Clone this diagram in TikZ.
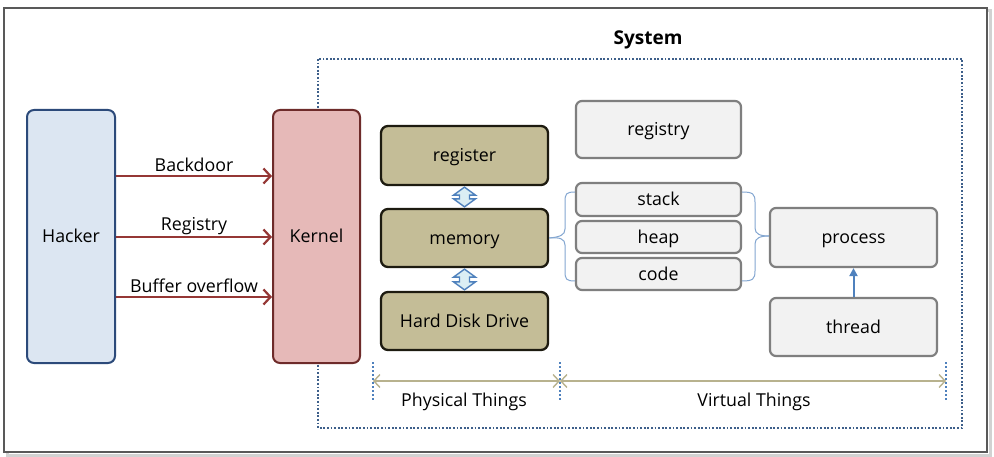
\documentclass[tikz,border=0pt]{standalone}
\usepackage{fontspec}
\setmainfont{Open Sans}
\usetikzlibrary{arrows.meta,calc}
\definecolor{hackfill}{HTML}{DCE6F2}
\definecolor{hackdraw}{HTML}{2C4A7A}
\definecolor{kernfill}{HTML}{E6B9B8}
\definecolor{kerndraw}{HTML}{6E2B2A}
\definecolor{arrred}{HTML}{953735}
\definecolor{tanfill}{HTML}{C4BD97}
\definecolor{tandraw}{HTML}{1D1B10}
\definecolor{grayfill}{HTML}{F2F2F2}
\definecolor{graydraw}{HTML}{7F7F7F}
\definecolor{blueline}{HTML}{4F81BD}
\definecolor{dotblue}{HTML}{3D5F8A}
\definecolor{dimtan}{HTML}{B8B28E}
\definecolor{dblfill}{HTML}{DBEEF4}
\tikzset{
  x=1pt,y=-1pt,
  txt/.style={font=\fontsize{17.8}{21}\selectfont},
  boxtxt/.style={txt, text height=12.7pt, text depth=0pt},
  bigbox/.style={rounded corners=7pt, line width=2pt, inner sep=0pt, boxtxt},
  hackbox/.style={bigbox, fill=hackfill, draw=hackdraw},
  kernbox/.style={bigbox, fill=kernfill, draw=kerndraw},
  tanbox/.style={rounded corners=7pt, line width=2.3pt, fill=tanfill, draw=tandraw, inner sep=0pt, boxtxt},
  graybox/.style={rounded corners=6pt, line width=2.2pt, fill=grayfill, draw=graydraw, inner sep=0pt, boxtxt},
  attack/.style={draw=arrred, line width=2.2pt, -{Straight Barb[length=7pt,width=15pt,line width=2.2pt]}},
  lbl/.style={txt, inner sep=1pt},
  bracec/.style={draw=blueline!70, line width=1pt},
  dimline/.style={draw=dimtan, line width=1.4pt, {Straight Barb[length=6pt,width=13pt]}-{Straight Barb[length=6pt,width=13pt]}},
  tick/.style={draw=blueline, line width=2pt, dash pattern=on 2pt off 2pt},
  dblarrow/.style={fill=dblfill, draw=blueline, line width=1.4pt, line join=miter},
}
\begin{document}
\begin{tikzpicture}
\useasboundingbox (0,0) rectangle (994,457);
\fill[white] (0,0) rectangle (994,457);
% outer frame with shadow
\draw[gray!35, line width=3pt] (7,11) rectangle (990,455);
\draw[gray!70!black, line width=1.6pt, fill=white] (4,8) rectangle (987,452);

% System frame
\node[font=\fontsize{19}{22}\selectfont\bfseries] (systitle) at (648,40) {System};
\draw[dotblue, line width=1.8pt, dash pattern=on 1.8pt off 1.8pt] (318,59) rectangle (962,428);

% Hacker and Kernel
\node[hackbox, minimum width=88pt, minimum height=253pt] (hacker) at (71,236.5) {Hacker};
\node[kernbox, minimum width=87pt, minimum height=253pt] (kernel) at (316.5,236.5) {Kernel};

\coordinate (h1) at (hacker.east |- 0,176);
\coordinate (h2) at (hacker.east |- 0,237);
\coordinate (h3) at (hacker.east |- 0,297);
\draw[attack] (h1) -- (kernel.west |- h1) node[lbl, midway, above=2pt] {Backdoor};
\draw[attack] (h2) -- (kernel.west |- h2) node[lbl, midway, above=0.5pt] {Registry};
\draw[attack] (h3) -- (kernel.west |- h3) node[lbl, midway, above=2pt] {Buffer overflow};

% physical things
\node[tanbox, minimum width=167pt, minimum height=59pt] (reg) at (464.5,155.5) {register};
\node[tanbox, minimum width=167pt, minimum height=58pt] (mem) at (464.5,238) {memory};
\node[tanbox, minimum width=167pt, minimum height=58pt] (hdd) at (464.5,321) {Hard Disk Drive};

% double block arrows
\foreach \a/\b in {reg/mem, mem/hdd}{
  \path let \p1=(\a.south), \p2=(\b.north) in
    [dblarrow] (\x1,\y1-1) -- (\x1+11,\y1-9) -- (\x1+5,\y1-9) -- (\x1+5,\y2+9) -- (\x1+11,\y2+9)
    -- (\x1,\y2+1) -- (\x1-11,\y2+9) -- (\x1-5,\y2+9) -- (\x1-5,\y1-9) -- (\x1-11,\y1-9) -- cycle;
}

% virtual things
\node[graybox, minimum width=165pt, minimum height=57pt] (registry) at (658.5,129.5) {registry};
\node[graybox, minimum width=165pt, minimum height=33pt] (stack) at (658.5,199.5) {stack};
\node[graybox, minimum width=165pt, minimum height=32pt] (heap) at (658.5,237) {heap};
\node[graybox, minimum width=165pt, minimum height=32pt] (code) at (658.5,274) {code};
\node[graybox, minimum width=167pt, minimum height=59pt] (process) at (853.5,237.5) {process};
\node[graybox, minimum width=167pt, minimum height=58pt] (thread) at (853.5,327) {thread};

\draw[draw=blueline, line width=2pt, -{Triangle[length=8pt,width=8pt]}] (thread.north) -- (process.south);

% left brace (memory <- stack/heap/code)
\coordinate (lbtop) at (stack.west |- 0,192);
\coordinate (lbbot) at (code.west |- 0,281);
\coordinate (lbtip) at (mem.east);
\draw[bracec] (lbtop) .. controls (566,192) and (565,194) .. (565,202) -- (565,229)
   .. controls (565,235) and (560,237) .. (lbtip);
\draw[bracec] (lbbot) .. controls (566,281) and (565,279) .. (565,271) -- (565,245)
   .. controls (565,239) and (560,237) .. (lbtip);
% right brace (stack/heap/code -> process)
\coordinate (rbtop) at (stack.east |- 0,192);
\coordinate (rbbot) at (code.east |- 0,281);
\coordinate (rbtip) at (process.west |- 0,236);
\draw[bracec] (rbtop) .. controls (753,192) and (755,194) .. (755,202) -- (755,228)
   .. controls (755,234) and (760,236) .. (rbtip);
\draw[bracec] (rbbot) .. controls (753,281) and (755,279) .. (755,271) -- (755,244)
   .. controls (755,238) and (760,236) .. (rbtip);

% dimension lines
\coordinate (d1) at (373,381);
\coordinate (d2) at (560,381);
\coordinate (d3) at (946,381);
\foreach \c in {d1,d2,d3}{
  \draw[tick] ($(\c)+(0,-19)$) -- ($(\c)+(0,19)$);
}
\draw[dimline] (d1) -- (d2);
\draw[dimline] (d2) -- (d3);
\node[lbl] (phys) at (464,402) {Physical Things};
\node[lbl] (virt) at (754,402) {Virtual Things};
\end{tikzpicture}
\end{document}
